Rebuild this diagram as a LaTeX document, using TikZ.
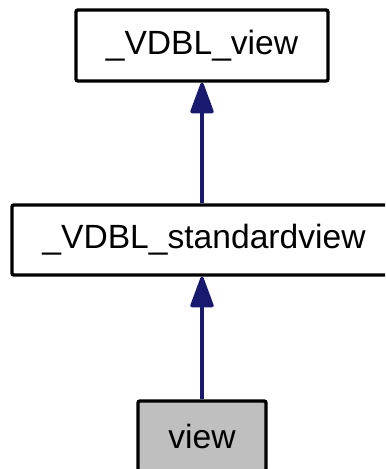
\documentclass[tikz,border=0pt]{standalone}
\usepackage{fontspec}
\setmainfont{Liberation Sans}
\usetikzlibrary{arrows.meta}
\definecolor{edgeblue}{HTML}{191970}
\definecolor{leafgray}{HTML}{BFBFBF}
\begin{document}
\begin{tikzpicture}[x=0.5pt, y=-0.5pt, font=\fontsize{16.8}{19}\selectfont,
  classbox/.style={draw=black, line width=1.7pt, rounded corners=1pt, minimum height=35pt, inner sep=0pt},
  inherit/.style={draw=edgeblue, fill=edgeblue, line width=1.7pt, -{Triangle[length=17pt, width=12pt, round]}}]
  \useasboundingbox (0,0) rectangle (385,469);
  \clip (0,0) rectangle (385,469);
  % class hierarchy
  \node[classbox, minimum width=126pt, minimum height=35.5pt] (base) at (202,45.5) {\_VDBL\_view};
  \node[classbox, minimum width=192pt] (std) at (204,240) {\_VDBL\_standardview};
  \node[classbox, fill=leafgray, minimum width=64pt] (leaf) at (202,436) {view};
  % inheritance arrows
  \draw[inherit] (std.north -| base) -- (base.south);
  \draw[inherit] (leaf.north) -- (std.south -| leaf);
\end{tikzpicture}
\end{document}
